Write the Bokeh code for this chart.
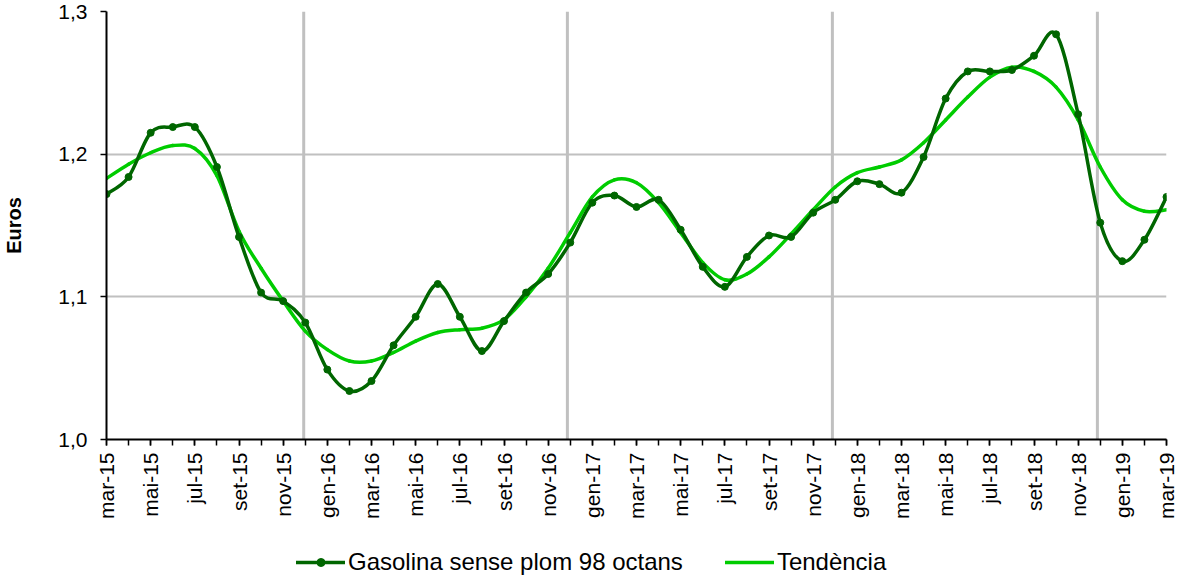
import math
from bokeh.plotting import figure
from bokeh.layouts import column
from bokeh.models import (Range1d, FixedTicker, CustomJSTickFormatter, Legend,
                          LegendItem, Span, ColumnDataSource)
from bokeh.embed import file_html
from bokeh.resources import INLINE

# ---------------- data ----------------
months = ["mar-15", "abr-15", "mai-15", "jun-15", "jul-15", "ago-15", "set-15", "oct-15", "nov-15", "des-15",
          "gen-16", "feb-16", "mar-16", "abr-16", "mai-16", "jun-16", "jul-16", "ago-16", "set-16", "oct-16", "nov-16", "des-16",
          "gen-17", "feb-17", "mar-17", "abr-17", "mai-17", "jun-17", "jul-17", "ago-17", "set-17", "oct-17", "nov-17", "des-17",
          "gen-18", "feb-18", "mar-18", "abr-18", "mai-18", "jun-18", "jul-18", "ago-18", "set-18", "oct-18", "nov-18", "des-18",
          "gen-19", "feb-19", "mar-19"]

price = [1.172, 1.184, 1.215, 1.219, 1.219, 1.191, 1.142, 1.103, 1.097, 1.082,
         1.049, 1.034, 1.041, 1.066, 1.086, 1.109, 1.086, 1.062, 1.083, 1.103, 1.116, 1.138,
         1.166, 1.171, 1.163, 1.168, 1.147, 1.121, 1.107, 1.128, 1.143, 1.142, 1.159, 1.168,
         1.181, 1.179, 1.173, 1.198, 1.239, 1.258, 1.258, 1.259, 1.269, 1.284, 1.228, 1.152,
         1.125, 1.140, 1.170]

trend = [1.183, 1.193, 1.201, 1.206, 1.204, 1.185, 1.146, 1.120, 1.097, 1.076,
         1.063, 1.055, 1.055, 1.061, 1.069, 1.075, 1.077, 1.078, 1.084, 1.100, 1.120, 1.145,
         1.170, 1.182, 1.180, 1.166, 1.145, 1.124, 1.112, 1.116, 1.128, 1.144, 1.161, 1.177,
         1.187, 1.191, 1.196, 1.208, 1.224, 1.240, 1.254, 1.261, 1.258, 1.247, 1.224, 1.191,
         1.168, 1.160, 1.161]

y_ticks = [1.0, 1.1, 1.2, 1.3]
year_breaks = [8.93, 20.87, 32.87, 44.87]

series_name = "Gasolina sense plom 98 octans"
trend_name = "Tendència"

DARK = "#006600"
BRIGHT = "#00cc00"
GRID = "#c0c0c0"
FONT = "Liberation Sans"

x = list(range(len(months)))


def smooth(xs, ys):
    n = len(xs)
    d = dict(x0=[], y0=[], x1=[], y1=[], cx0=[], cy0=[], cx1=[], cy1=[])
    for i in range(n - 1):
        im = max(i - 1, 0)
        ip = min(i + 2, n - 1)
        d["x0"].append(xs[i]); d["y0"].append(ys[i])
        d["x1"].append(xs[i + 1]); d["y1"].append(ys[i + 1])
        d["cx0"].append(xs[i] + (xs[i + 1] - xs[im]) / 6.0)
        d["cy0"].append(ys[i] + (ys[i + 1] - ys[im]) / 6.0)
        d["cx1"].append(xs[i + 1] - (xs[ip] - xs[i]) / 6.0)
        d["cy1"].append(ys[i + 1] - (ys[ip] - ys[i]) / 6.0)
    return d


trend_src = ColumnDataSource(smooth(x, trend))
price_src = ColumnDataSource(smooth(x, price))
pts_src = ColumnDataSource(dict(x=x, y=price))

p = figure(width=1180, height=529, output_backend="svg", toolbar_location=None,
           x_range=Range1d(0, len(months) - 1), y_range=Range1d(1.0, 1.3),
           min_border_left=104, min_border_right=14, min_border_top=11,
           min_border_bottom=90)
p.outline_line_color = None
p.background_fill_color = "white"
p.border_fill_color = "white"

# grid
p.xgrid.visible = False
p.ygrid.grid_line_color = GRID
p.ygrid.grid_line_width = 2

for loc in year_breaks:
    p.add_layout(Span(location=loc, dimension="height", line_color=GRID,
                      line_width=3, level="underlay"))

bez_kw = dict(x0="x0", y0="y0", x1="x1", y1="y1", cx0="cx0", cy0="cy0",
              cx1="cx1", cy1="cy1", line_width=3.5, line_cap="round")

p.bezier(source=trend_src, line_color=BRIGHT, **bez_kw)
p.bezier(source=price_src, line_color=DARK, **bez_kw)
p.scatter("x", "y", source=pts_src, size=7, fill_color=DARK, line_color=DARK)

# axes
p.xaxis.ticker = FixedTicker(ticks=list(range(0, len(months), 2)),
                             minor_ticks=list(range(len(months))))
p.xaxis.major_label_overrides = {i: months[i] for i in range(0, len(months), 2)}
p.xaxis.major_label_orientation = math.pi / 2
p.yaxis.ticker = FixedTicker(ticks=y_ticks)
p.yaxis.formatter = CustomJSTickFormatter(code="return tick.toFixed(1).replace('.', ',');")

for ax in (p.xaxis[0], p.yaxis[0]):
    ax.axis_line_color = "black"
    ax.axis_line_width = 2
    ax.major_tick_line_color = "black"
    ax.major_tick_line_width = 1.5
    ax.minor_tick_line_color = "black"
    ax.minor_tick_line_width = 1.5
    ax.major_tick_in = 0
    ax.major_tick_out = 6
    ax.minor_tick_in = 0
    ax.minor_tick_out = 6
    ax.major_label_text_font = FONT
    ax.major_label_text_font_size = "21px"
    ax.major_label_text_color = "black"

p.xaxis.major_label_standoff = 7
p.yaxis.major_label_standoff = 13
p.yaxis.minor_tick_out = 0
p.yaxis.axis_label = "Euros"
p.yaxis.axis_label_text_font = FONT
p.yaxis.axis_label_text_font_style = "bold"
p.yaxis.axis_label_text_font_size = "20px"
p.yaxis.axis_label_text_color = "black"
p.yaxis.axis_label_standoff = 30

# ---------------- legend strip (same series, view placed off their data) ----------------
lf = figure(width=1180, height=51, output_backend="svg", toolbar_location=None,
            x_range=Range1d(0, 1), y_range=Range1d(-10, -9),
            min_border_left=104, min_border_right=14, min_border_top=0,
            min_border_bottom=0)
lf.axis.visible = False
lf.grid.visible = False
lf.outline_line_color = None
lf.border_fill_color = "white"
lf.background_fill_color = "white"

l_price = lf.bezier(source=price_src, line_color=DARK, **bez_kw)
l_pts = lf.scatter("x", "y", source=pts_src, size=7, fill_color=DARK, line_color=DARK)
l_trend = lf.bezier(source=trend_src, line_color=BRIGHT, **bez_kw)

legend = Legend(items=[LegendItem(label=series_name, renderers=[l_price, l_pts]),
                       LegendItem(label=trend_name, renderers=[l_trend])],
                orientation="horizontal", location=(190, 4),
                padding=0, margin=0, spacing=42, label_standoff=3,
                glyph_width=49, glyph_height=20, label_height=20,
                border_line_color=None, background_fill_alpha=0,
                label_text_font=FONT, label_text_font_size="24px",
                label_text_color="black")
lf.add_layout(legend, "center")

layout = column(p, lf, spacing=0)
open("out.html", "w").write(file_html(layout, INLINE))
